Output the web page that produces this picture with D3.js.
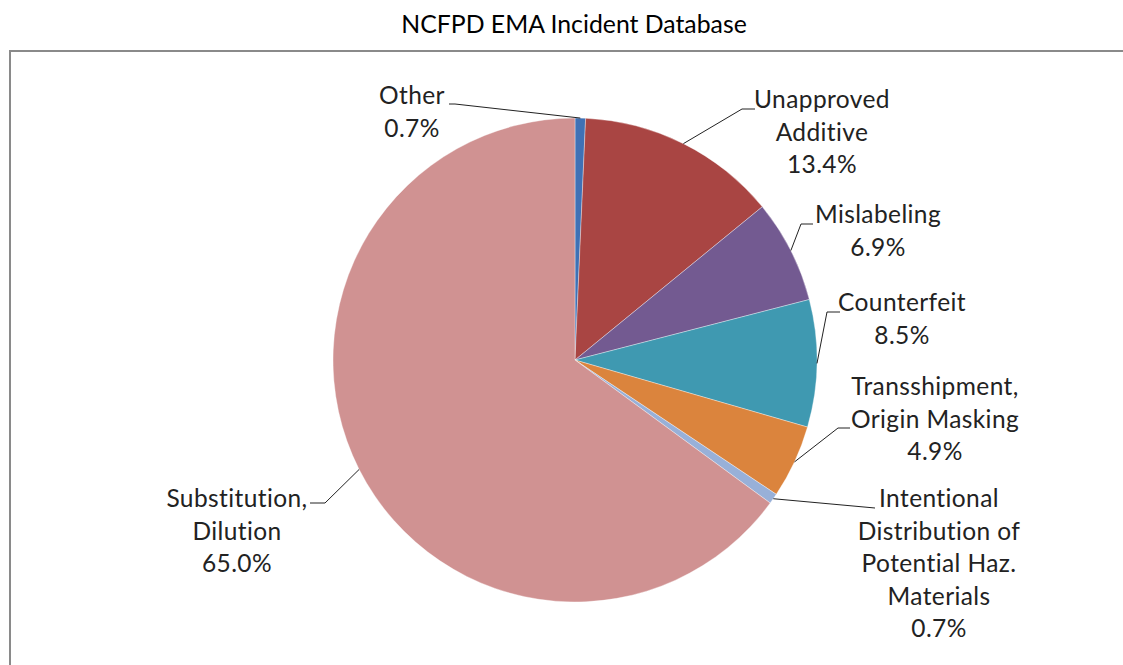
<!DOCTYPE html>
<html>
<head>
<meta charset="utf-8">
<script src="https://cdn.jsdelivr.net/npm/d3@7"></script>
<style>
  html, body { margin: 0; padding: 0; background: #fff; }
  svg { display: block; }
  text { font-variant-ligatures: none; font-feature-settings: "liga" 0, "clig" 0; }
</style>
</head>
<body>
<svg id="chart" width="1123" height="665"></svg>
<script>
// ---- data ----
const title = "NCFPD EMA Incident Database";
const categories = [
  ["Other"],
  ["Unapproved", "Additive"],
  ["Mislabeling"],
  ["Counterfeit"],
  ["Transshipment,", "Origin Masking"],
  ["Intentional", "Distribution of", "Potential Haz.", "Materials"],
  ["Substitution,", "Dilution"]
];
const values = [0.7, 13.4, 6.9, 8.5, 4.9, 0.7, 65.0];
const colors = ["#3F71B5", "#A94543", "#735A91", "#3F99B1", "#DB843D", "#98B0D8", "#D09292"];

// ---- layout (label placement, not data) ----
const cx = 575, cy = 360, R = 242;
// label center x, first baseline y, leader start [x,y], elbow [x,y]
const labelLayout = [
  {x: 412, y: 104, start: [449, 104], elbow: [455, 104]},
  {x: 822, y: 108, start: [755, 109], elbow: [742, 109]},
  {x: 878, y: 223, start: [813, 224], elbow: [801, 224]},
  {x: 902, y: 311, start: [840, 312], elbow: [827, 312]},
  {x: 935, y: 395, start: [850, 428], elbow: [838, 428]},
  {x: 939, y: 507, start: [875, 508], elbow: [875, 508]},
  {x: 237, y: 507, start: [310, 503], elbow: [325, 503]}
];
const lineH = 32.5;
const labelFont = "Lato, 'Open Sans', sans-serif";

const svg = d3.select("#chart");

// frame
svg.append("rect")
  .attr("x", 10).attr("y", 51)
  .attr("width", 1140).attr("height", 700)
  .attr("fill", "#fff")
  .attr("stroke", "#8a8a8a").attr("stroke-width", 2);

// title
svg.append("text")
  .attr("x", 574).attr("y", 33)
  .attr("text-anchor", "middle")
  .attr("font-family", labelFont)
  .attr("font-size", 24.8)
  .attr("fill", "#000")
  .text(title);

const pie = d3.pie().sort(null).value(d => d)(values);
const arc = d3.arc().innerRadius(0).outerRadius(R);
const edgeArc = d3.arc().innerRadius(R).outerRadius(R);

const g = svg.append("g").attr("transform", `translate(${cx},${cy})`);
g.selectAll("path.slice")
  .data(pie)
  .join("path")
  .attr("class", "slice")
  .attr("d", arc)
  .attr("fill", (d, i) => colors[i])
  .attr("stroke", "#ffffff")
  .attr("stroke-opacity", 0.45)
  .attr("stroke-width", 0.8);

// leader lines
svg.selectAll("polyline.leader")
  .data(pie)
  .join("polyline")
  .attr("class", "leader")
  .attr("fill", "none")
  .attr("stroke", "#222")
  .attr("stroke-width", 1)
  .attr("points", (d, i) => {
    const L = labelLayout[i];
    const c = edgeArc.centroid(d);
    return [L.start, L.elbow, [cx + c[0], cy + c[1]]].map(p => p.join(",")).join(" ");
  });

// labels
const lbl = svg.selectAll("text.lbl")
  .data(pie)
  .join("text")
  .attr("class", "lbl")
  .attr("text-anchor", "middle")
  .attr("font-family", labelFont)
  .attr("font-size", 24.5)
  .attr("letter-spacing", 0.4)
  .attr("fill", "#222");

lbl.each(function(d, i) {
  const L = labelLayout[i];
  const lines = categories[i].concat([values[i].toFixed(1) + "%"]);
  d3.select(this).selectAll("tspan")
    .data(lines)
    .join("tspan")
    .attr("x", L.x)
    .attr("y", (t, k) => L.y + k * lineH)
    .text(t => t);
});
</script>
</body>
</html>
